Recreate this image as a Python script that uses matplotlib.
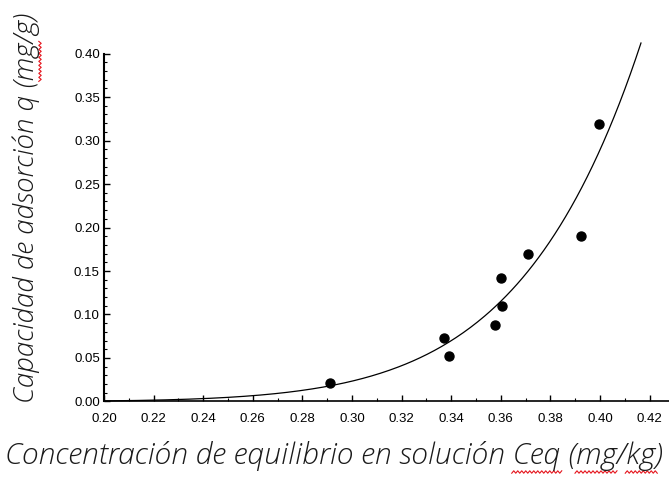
import numpy as np
import matplotlib
matplotlib.use('Agg')
from matplotlib import pyplot
from matplotlib.lines import Line2D
from matplotlib.transforms import IdentityTransform
from matplotlib.ticker import MultipleLocator, FormatStrFormatter

# Measured points: equilibrium concentration (mg/kg) vs. adsorbed amount (mg/g)
ceq = [0.291, 0.337, 0.339, 0.3575, 0.3602, 0.3606, 0.371, 0.3923, 0.3996]
q = [0.021, 0.0726, 0.0523, 0.0879, 0.142, 0.110, 0.1695, 0.190, 0.319]

# Freundlich fit: q = K * Ceq ** n
FIT_K = 870.0
FIT_N = 8.74
FIT_RANGE = (0.20, 0.4165)

X_TICKS = [0.20, 0.22, 0.24, 0.26, 0.28, 0.30, 0.32, 0.34, 0.36, 0.38, 0.40, 0.42]
Y_TICKS = [0.00, 0.05, 0.10, 0.15, 0.20, 0.25, 0.30, 0.35, 0.40]

X_LABEL = 'Concentración de equilibrio en solución Ceq (mg/kg)'
Y_LABEL = 'Capacidad de adsorción q (mg/g)'
# words carrying the red spell-check underline in the original
X_MARKED = ['Ceq', '(mg', '/kg']
Y_MARKED = ['(mg']

LABEL_FONT = dict(family=['Open Sans', 'DejaVu Sans'], style='italic',
                  weight=300, color='#1a1a1a')


def text_width(figure, renderer, s, size):
    t = figure.text(0, 0, s, size=size, **LABEL_FONT)
    w = t.get_window_extent(renderer).width
    t.remove()
    return w


def squiggle(figure, start, end, offset, vertical=False):
    # red zigzag like a word processor's spelling mark, in pixel coords
    along = np.arange(start, end, 2.0)
    across = offset + np.where(np.arange(len(along)) % 2 == 0, -1.2, 1.2)
    if vertical:
        xs, ys = across, along
    else:
        xs, ys = along, across
    figure.add_artist(Line2D(xs, ys, transform=IdentityTransform(),
                             color='#e5141c', linewidth=0.8))


def mark_words(figure, renderer, label, words, size, origin, offset, vertical=False):
    for word in words:
        i = label.index(word) + len(word)
        end = origin + text_width(figure, renderer, label[:i], size)
        stripped = word.strip('(/')
        start = end - text_width(figure, renderer, stripped, size)
        squiggle(figure, start - 1, end + 2, offset, vertical)


def main():
    pyplot.rcParams['font.family'] = ['Liberation Sans', 'DejaVu Sans']

    figure = pyplot.figure(figsize=(6.69, 4.79), dpi=100)
    axes = figure.add_axes([0.1555, 0.1618, 1.0 - 0.1555, 0.8883 - 0.1618])

    c = np.linspace(FIT_RANGE[0], FIT_RANGE[1], 300)
    axes.plot(c, FIT_K * c ** FIT_N, color='black', linewidth=0.9, clip_on=False)
    axes.scatter(ceq, q, s=42, color='black', zorder=3, clip_on=False)

    axes.set_xlim(0.20, 0.4278)
    axes.set_ylim(0.0, 0.40)
    axes.set_xticks(X_TICKS)
    axes.set_yticks(Y_TICKS)
    axes.xaxis.set_minor_locator(MultipleLocator(0.01))
    axes.yaxis.set_minor_locator(MultipleLocator(0.01))
    axes.xaxis.set_major_formatter(FormatStrFormatter('%.2f'))
    axes.yaxis.set_major_formatter(FormatStrFormatter('%.2f'))

    for side in ('top', 'right'):
        axes.spines[side].set_visible(False)
    axes.spines['left'].set_linewidth(1.5)
    axes.spines['bottom'].set_linewidth(1.2)

    axes.tick_params(which='major', direction='in', length=4, width=1,
                     labelsize=9.5, colors='black')
    axes.tick_params(which='minor', direction='in', length=2.5, width=0.8)
    axes.tick_params(axis='x', which='major', pad=8)
    axes.tick_params(axis='y', which='major', pad=3)

    W, H = 669, 479
    x_size, y_size = 21.6, 20.0
    # x label: left edge / baseline in pixels from the top-left corner
    x_left, x_base = 5, 464
    # y label (rotated): bottom end / baseline column in pixels
    y_bottom, y_base = 403, 34

    figure.text(x_left / W, 1 - x_base / H, X_LABEL, ha='left', va='baseline',
                size=x_size, **LABEL_FONT)
    figure.text(y_base / W, 1 - y_bottom / H, Y_LABEL, ha='left', va='baseline',
                rotation=90, rotation_mode='anchor', size=y_size, **LABEL_FONT)

    renderer = figure.canvas.get_renderer()
    mark_words(figure, renderer, X_LABEL, X_MARKED, x_size,
               origin=x_left, offset=H - x_base - 8)
    mark_words(figure, renderer, Y_LABEL, Y_MARKED, y_size,
               origin=H - y_bottom, offset=y_base + 6, vertical=True)

    figure.savefig('out.png', dpi=100)


if __name__ == '__main__':
    main()
